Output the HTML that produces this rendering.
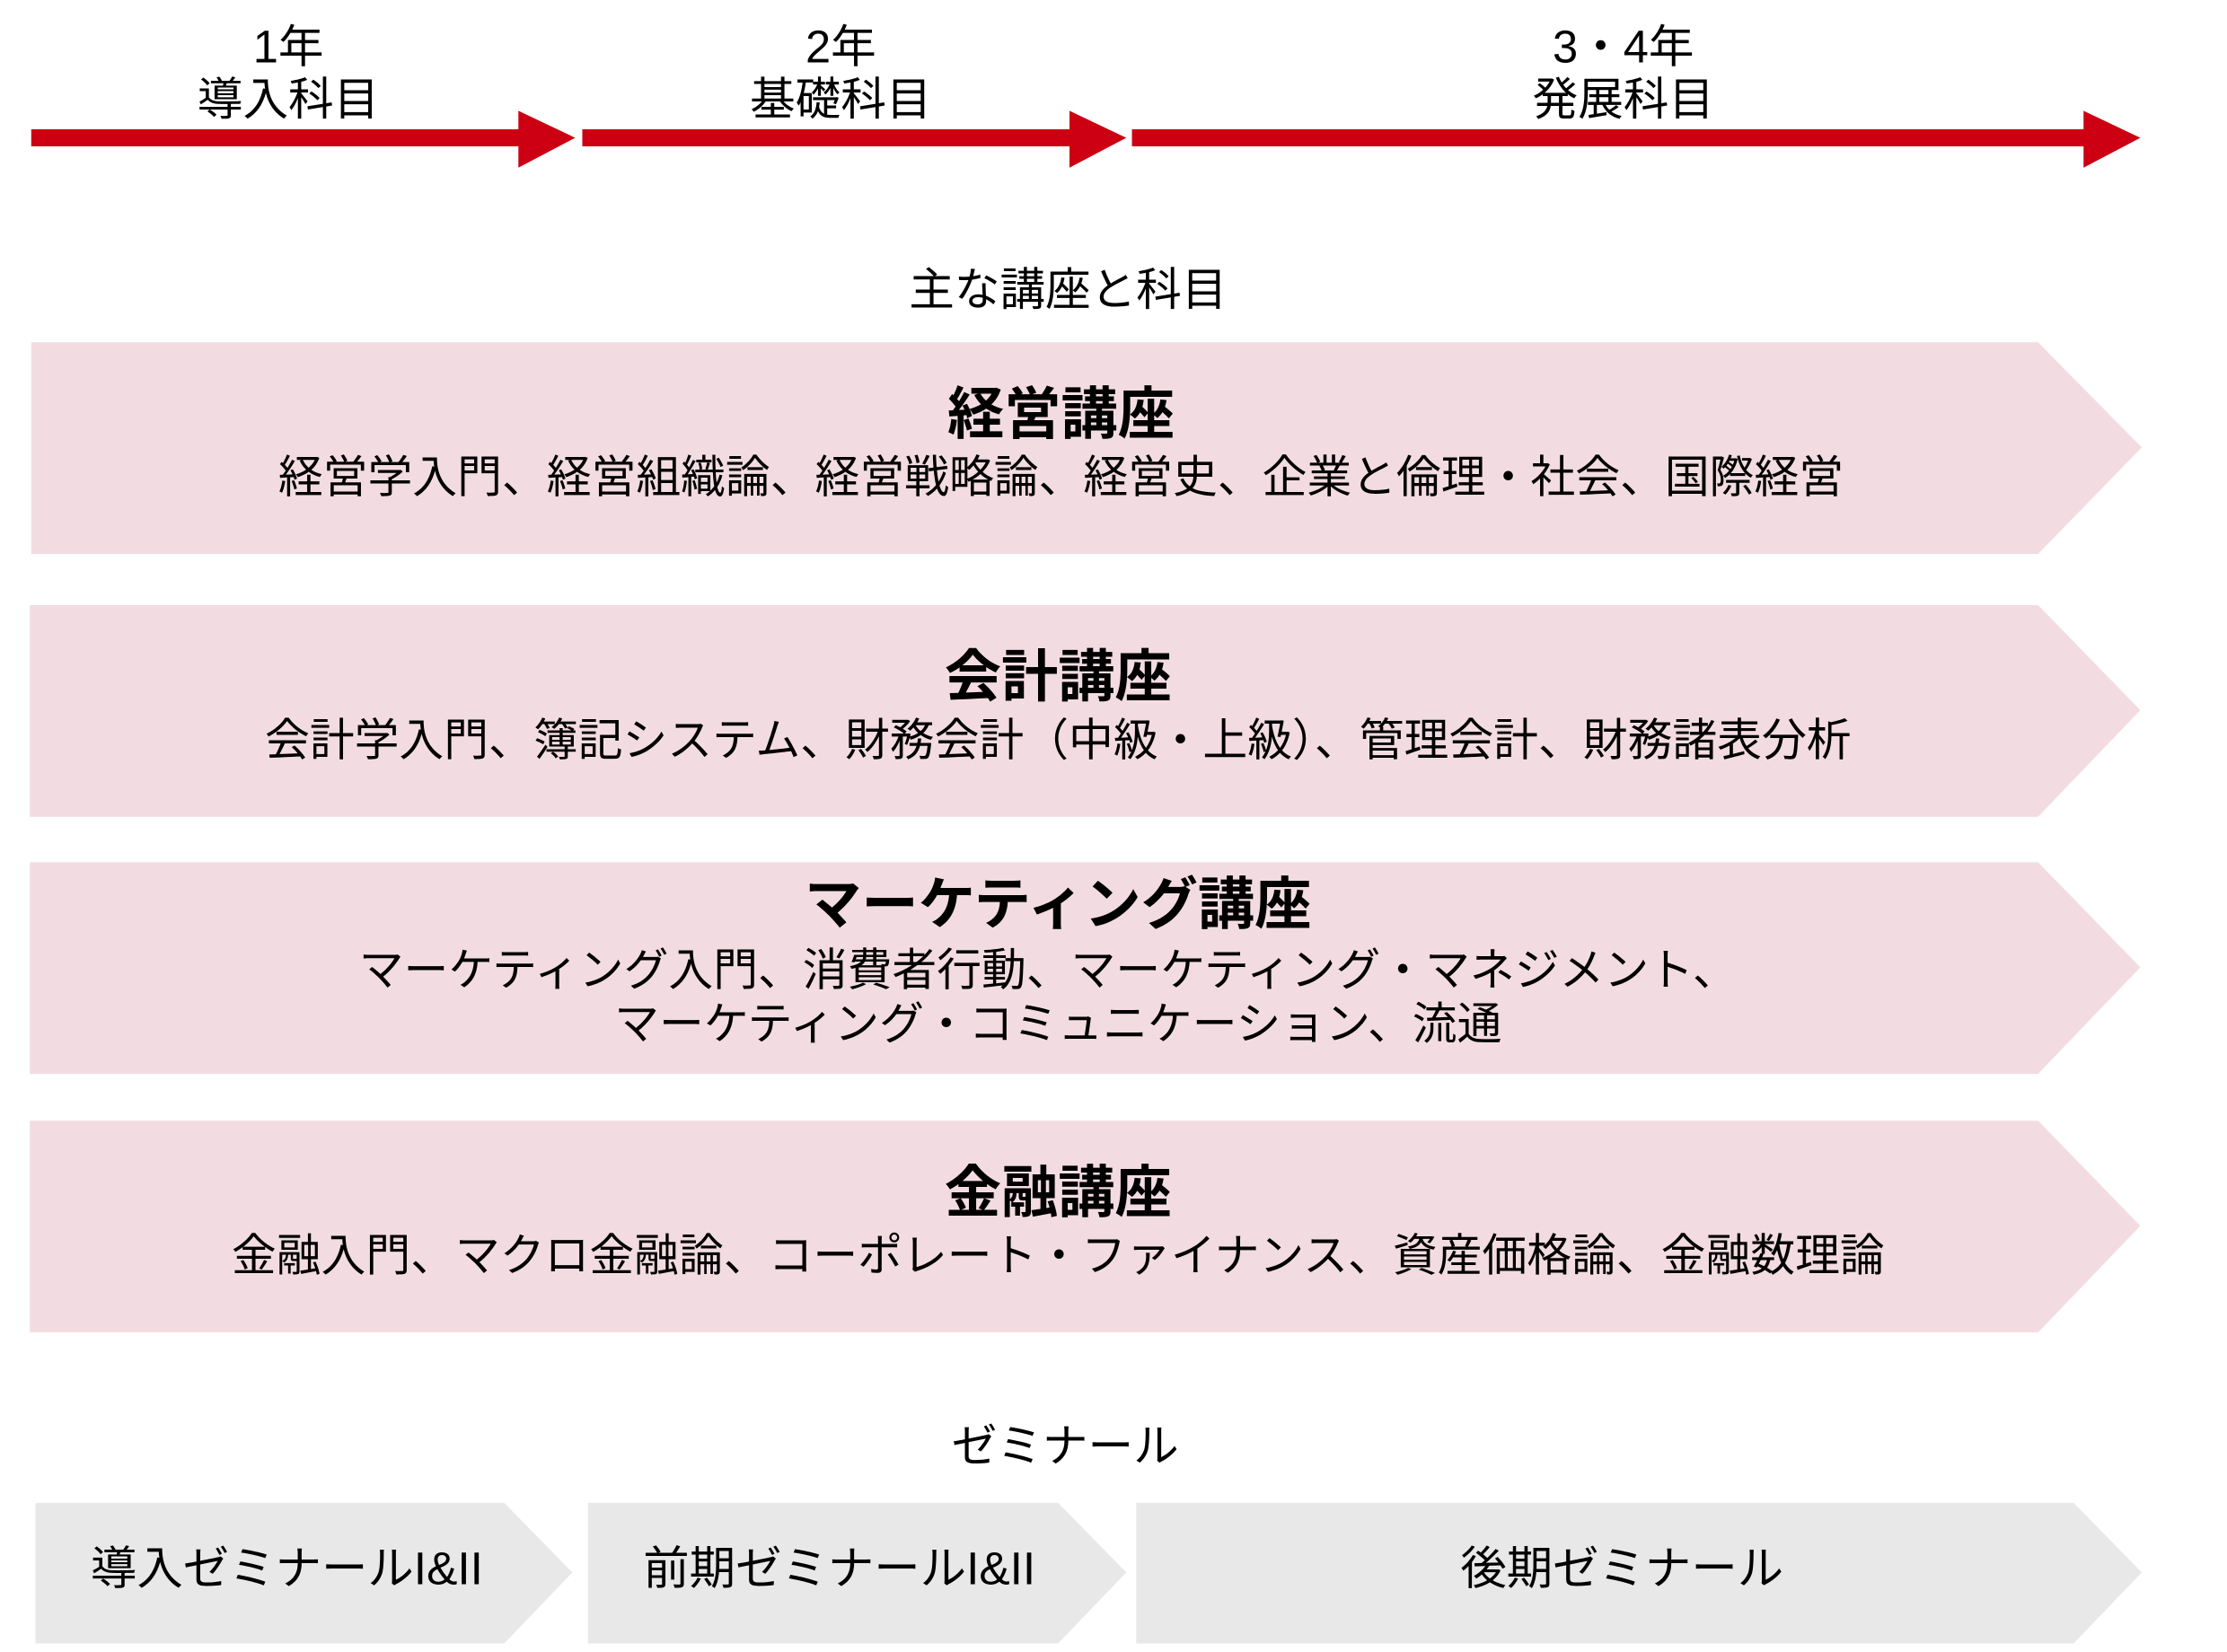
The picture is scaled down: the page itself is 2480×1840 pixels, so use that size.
<!DOCTYPE html>
<html><head><meta charset="utf-8"><style>
html,body{margin:0;padding:0;background:#fff}
svg{display:block}
text{font-family:"Liberation Sans","Noto Sans CJK JP",sans-serif;fill:#000;text-anchor:middle;dominant-baseline:central}
.t{font-size:32px}
.h{font-size:40px;font-weight:bold}
.s{font-size:31.5px}
.z{font-size:32.5px}
</style></head><body>
<svg width="2480" height="1840" viewBox="0 0 1568 1163" preserveAspectRatio="none">
<g fill="#cc0012">
<polygon points="22,91 365,91 365,78 405,97 365,118 365,103 22,103"/>
<polygon points="410,91 753,91 753,78 793,97 753,118 753,103 410,103"/>
<polygon points="797,91 1467,91 1467,78 1507,97 1467,118 1467,103 797,103"/>
</g>
<text class="t" x="203" y="33">1年</text>
<text class="t" x="203" y="70">導入科目</text>
<text class="t" x="592" y="33">2年</text>
<text class="t" x="592" y="70">基礎科目</text>
<text class="t" x="1143" y="33">3・4年</text>
<text class="t" x="1143" y="70">発展科目</text>
<text class="t" x="752" y="204">主な講座と科目</text>
<g fill="#f2dce2">
<polygon points="22,241 1435,241 1508,315 1435,390 22,390"/>
<polygon points="21,426 1435,426 1507,500 1435,575 21,575"/>
<polygon points="21,607 1435,607 1507,681 1435,756 21,756"/>
<polygon points="21,789 1435,789 1507,863 1435,938 21,938"/>
</g>
<text class="h" x="747" y="292">経営講座</text>
<text class="s" x="747" y="336">経営学入門、経営組織論、経営戦略論、経営史、企業と倫理・社会、国際経営</text>
<text class="h" x="745" y="477">会計講座</text>
<text class="s" x="745" y="521">会計学入門、簿記システム、財務会計（中級・上級）、管理会計、財務諸表分析</text>
<text class="h" x="745" y="637">マーケティング講座</text>
<text class="s" x="738" y="683">マーケティング入門、消費者行動、マーケティング・マネジメント、</text>
<text class="s" x="745" y="721">マーケティング・コミュニケーション、流通</text>
<text class="h" x="745" y="840">金融講座</text>
<text class="s" x="745" y="884">金融入門、マクロ金融論、コーポレート・ファイナンス、資産価格論、金融数理論</text>
<text class="t" x="750" y="1018">ゼミナール</text>
<g fill="#e8e8e8">
<polygon points="25,1058 355,1058 403,1107 355,1157 25,1157"/>
<polygon points="414,1058 745,1058 793,1107 745,1157 414,1157"/>
<polygon points="800,1058 1460,1058 1508,1107 1460,1157 800,1157"/>
</g>
<text class="z" x="202" y="1104">導入ゼミナールI&amp;II</text>
<text class="z" x="591" y="1104">前期ゼミナールI&amp;II</text>
<text class="z" x="1142" y="1104">後期ゼミナール</text>
</svg>
</body></html>
